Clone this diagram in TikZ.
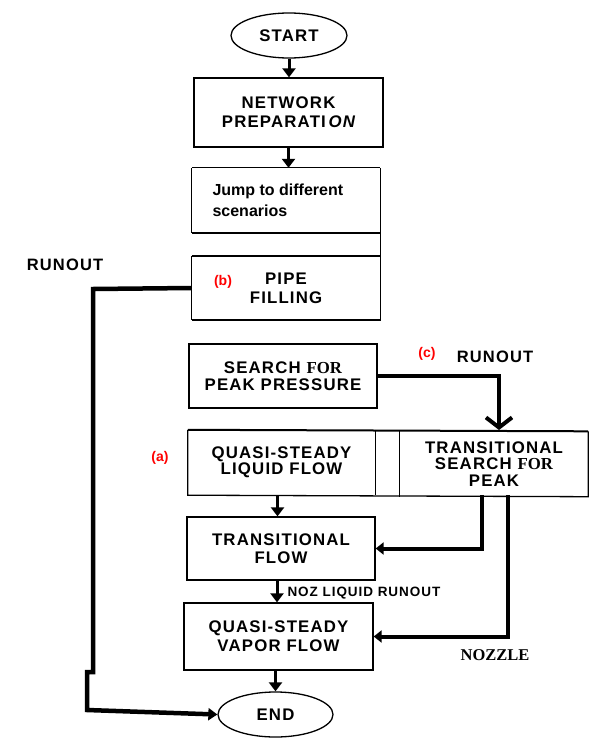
\documentclass[tikz,border=0pt]{standalone}
\usepackage{fontspec}
\setmainfont{Liberation Sans}
\newfontfamily\capsf{Liberation Sans}[LetterSpace=7]
\newfontfamily\serf{Liberation Serif}
\usetikzlibrary{arrows.meta,shapes.geometric,calc}
\begin{document}
\begin{tikzpicture}[x=1pt,y=-1pt,
  boxtxt/.style={font=\capsf\bfseries\fontsize{16.8}{17}\selectfont, align=center},
  bx/.style={draw, line width=1.3pt, inner sep=0pt, boxtxt},
  nb/.style={inner sep=0pt, boxtxt},
  arr/.style={line width=3pt, -{Triangle[length=9pt,width=13pt]}},
  thkarr/.style={line width=4pt, -{Triangle[length=8pt,width=12pt]}},
  lbl/.style={font=\capsf\bfseries\fontsize{16.5}{17}\selectfont},
  redlbl/.style={font=\bfseries\fontsize{14}{14}\selectfont, text=red}]
\useasboundingbox (0,0) rectangle (612,752);
\fill[white] (0,0) rectangle (612,752);

% nodes
\node[ellipse, draw, line width=1.3pt, minimum width=116pt, minimum height=45pt, boxtxt] (start) at (289,35.5) {START};
\node[bx, minimum width=189pt, minimum height=69pt, font=\capsf\bfseries\fontsize{16.8}{19}\selectfont] (net) at (288.5,112.5) {NETWORK\\PREPARATI\,{\itshape ON}};
\node[nb, minimum width=188pt, minimum height=65pt] (jump) at (286,200.5) {};
\node[font=\bfseries\fontsize{16}{20.5}\selectfont, align=left, anchor=west] (jumptxt) at (209,200.5) {Jump to different\\scenarios};
\node[nb, minimum width=188pt, minimum height=64pt, font=\capsf\bfseries\fontsize{16.8}{19}\selectfont] (pipe) at (286,288) {PIPE\\FILLING};
\node[bx, minimum width=188pt, minimum height=64pt, font=\capsf\bfseries\fontsize{16.8}{16.5}\selectfont] (search) at (283,376) {SEARCH {\serf FOR}\\PEAK PRESSURE};
\node[nb, minimum width=187pt, minimum height=65pt, font=\capsf\bfseries\fontsize{16.8}{16}\selectfont] (qsl) at (281.5,462.5) {QUASI-STEADY\\LIQUID FLOW};
\node[nb, minimum width=188pt, minimum height=65pt, font=\capsf\bfseries\fontsize{16.8}{16.5}\selectfont] (tsp) at (494,464) {TRANSITIONAL\\SEARCH {\serf FOR}\\PEAK};
\node[bx, minimum width=188pt, minimum height=63pt, font=\capsf\bfseries\fontsize{16.8}{18}\selectfont] (tf) at (281,548.5) {TRANSITIONAL\\FLOW};
\node[bx, minimum width=189pt, minimum height=67pt, font=\capsf\bfseries\fontsize{16.8}{19}\selectfont] (qsv) at (278.5,636.5) {QUASI-STEADY\\VAPOR FLOW};
\node[ellipse, draw, line width=1.3pt, minimum width=115pt, minimum height=45pt, boxtxt] (end) at (275.5,714.5) {END};

% labels
\node[lbl] (ro1) at (65,265) {RUNOUT};
\node[redlbl] (lb) at (223,282) {(b)};
\node[redlbl] (lc) at (427,354) {(c)};
\node[lbl] (ro2) at (495,357) {RUNOUT};
\node[redlbl] (la) at (160,458) {(a)};
\node[font=\capsf\bfseries\fontsize{13.5}{13}\selectfont, anchor=west] (noz) at (284,593) {NOZ LIQUID RUNOUT};
\node[font=\serf\bfseries\fontsize{16.5}{16}\selectfont] (nozzle) at (495,655) {NOZZLE};

% open boxes
\draw[line width=1pt] (jump.north west) -- (jump.north east);
\draw[line width=1.3pt] (jump.north west) -- (jump.south west);
\draw[line width=2.5pt] (jump.south west) -- ([xshift=1pt]jump.south east);
\draw[line width=1.3pt] (jump.north east) -- (pipe.south east);
\draw[line width=2.5pt] (pipe.north west) -- ([xshift=1pt]pipe.north east);
\draw[line width=1.3pt] (pipe.north west) -- (pipe.south west);
\draw[line width=1.6pt] (pipe.south west) -- ([xshift=1pt]pipe.south east);

% row box
\draw[line width=2pt] (qsl.north west) -- (tsp.north east);
\draw[line width=1.3pt] (qsl.north west) -- (qsl.south west) -- (tsp.south east) -- (tsp.north east);
\draw[line width=1pt] (qsl.north east) -- (qsl.south east);
\draw[line width=1pt] (tsp.north west) -- (tsp.south west);

% connectors
\draw[arr] (start.south) -- (start.south |- net.north);
\draw[arr] (net.south) -- (net.south |- jump.north);
\draw[arr] ([xshift=-4pt]qsl.south) -- ([xshift=-4pt]qsl.south |- tf.north);
\draw[arr] ([xshift=-4pt]tf.south) -- ([xshift=-4pt]tf.south |- qsv.north);
\draw[arr] (qsv.south -| end.north) -- (end.north);

\coordinate (r1) at (93,289);
\coordinate (r2) at (93,672);
\coordinate (r3) at (87,672);
\coordinate (r4) at (87,710);
\draw[line width=4.5pt, line join=miter, -{Triangle[length=9pt,width=12pt]}] (pipe.west) -- (r1) -- (r2) -- (r3) -- (r4) -- (end.west);

\coordinate (v) at (499,430);
\draw[line width=4pt, -{Straight Barb[length=10pt,width=26pt]}] (search.east) -| (v);

\coordinate (t1) at (482,495);
\coordinate (t2) at (508,495);
\draw[thkarr] (t1) |- (tf.east);
\draw[thkarr] (t2) |- (qsv.east);
\end{tikzpicture}
\end{document}
